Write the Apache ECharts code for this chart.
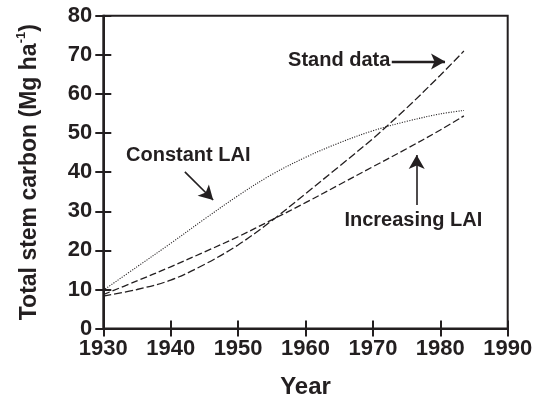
<!DOCTYPE html>
<html>
<head>
<meta charset="utf-8">
<script src="https://cdn.jsdelivr.net/npm/echarts@6/dist/echarts.min.js"></script>
<style>
html,body{margin:0;padding:0;background:#fff;}
#chart{width:539px;height:406px;}
</style>
</head>
<body>
<div id="chart"></div>
<script>
// ---- data ----
var years = [1930, 1935, 1940, 1945, 1950, 1955, 1960, 1965, 1970, 1975, 1980, 1983.5];
var standData = [8.3, 10.0, 12.4, 16.4, 21.4, 27.6, 34.5, 41.5, 48.6, 56.4, 64.8, 71.0];
var increasingLAI = [8.7, 12.2, 15.8, 19.6, 23.5, 27.8, 32.2, 36.8, 41.4, 46.0, 50.8, 54.4];
var constantLAI = [9.8, 15.8, 21.8, 28.0, 34.0, 39.4, 43.8, 47.5, 50.6, 53.0, 54.9, 55.8];
var xTicks = [1930, 1940, 1950, 1960, 1970, 1980, 1990];
var yTicks = [0, 10, 20, 30, 40, 50, 60, 70, 80];
var annotationText = ['Stand data', 'Constant LAI', 'Increasing LAI'];
var annotationAnchor = [[1965.0, 68.6], [1942.6, 44.4], [1976.0, 27.6]];
var arrowFrom = [[1972.8, 68.3], [1942.1, 40.1], [1976.5, 31.6]];
var arrowTo = [[1980.7, 68.3], [1946.3, 32.9], [1976.5, 44.4]];

function pairs(xs, ys) { return xs.map(function (x, i) { return [x, ys[i]]; }); }

var ink = '#231f20';
var font = '"Liberation Sans", Arial, Helvetica, sans-serif';

var chart = echarts.init(document.getElementById('chart'), null, { renderer: 'canvas' });

function xAx(inside, labels) {
  return {
    type: 'value', min: xTicks[0], max: xTicks[xTicks.length - 1], interval: 10,
    position: 'bottom',
    axisLine: { show: true, lineStyle: { color: ink, width: 2 } },
    axisTick: { show: true, inside: inside, length: 8, lineStyle: { color: ink, width: 2 } },
    axisLabel: { show: labels, color: ink, fontFamily: font, fontWeight: 'bold', fontSize: 22, margin: 9,
      formatter: function (v) { return String(v); } },
    splitLine: { show: false },
    name: labels ? 'Year' : '', nameLocation: 'middle', nameGap: 47,
    nameTextStyle: { color: ink, fontFamily: font, fontWeight: 'bold', fontSize: 24 }
  };
}
function yAx(inside, labels) {
  return {
    type: 'value', min: yTicks[0], max: yTicks[yTicks.length - 1], interval: 10,
    position: 'left',
    axisLine: { show: true, lineStyle: { color: ink, width: 2 } },
    axisTick: { show: true, inside: inside, length: 8, lineStyle: { color: ink, width: 2 } },
    axisLabel: { show: labels, color: ink, fontFamily: font, fontWeight: 'bold', fontSize: 22, margin: 11,
      formatter: function (v) { return String(v); } },
    splitLine: { show: false },
    name: labels ? '{a|Total stem carbon (Mg ha}{s|-1}{a|)}' : '',
    nameLocation: 'middle', nameGap: 62,
    nameTextStyle: {
      color: ink, fontFamily: font, fontWeight: 'bold', fontSize: 23,
      rich: {
        a: { color: ink, fontFamily: font, fontWeight: 'bold', fontSize: 23, lineHeight: 26, verticalAlign: 'bottom' },
        s: { color: ink, fontFamily: font, fontWeight: 'bold', fontSize: 13, lineHeight: 26, verticalAlign: 'top', padding: [0, 0, 10, 0] }
      }
    }
  };
}

var lineBase = { type: 'line', showSymbol: false, symbol: 'none', smooth: 0.35, xAxisIndex: 0, yAxisIndex: 0, silent: true };
var annLabel = { color: ink, fontFamily: font, fontWeight: 'bold', fontSize: 20 };

chart.setOption({
  animation: false,
  backgroundColor: '#fff',
  grid: { left: 103.3, right: 31.3, top: 15.8, bottom: 77.4, show: true, borderColor: ink, borderWidth: 2, backgroundColor: 'transparent' },
  xAxis: [xAx(false, true), xAx(true, false)],
  yAxis: [yAx(false, true), yAx(true, false)],
  series: [
    Object.assign({}, lineBase, { name: 'Stand data', data: pairs(years, standData),
      lineStyle: { color: ink, width: 1.3, type: [8, 3] } }),
    Object.assign({}, lineBase, { name: 'Increasing LAI', data: pairs(years, increasingLAI),
      lineStyle: { color: ink, width: 1.3, type: [7, 3] } }),
    Object.assign({}, lineBase, { name: 'Constant LAI', data: pairs(years, constantLAI),
      lineStyle: { color: ink, width: 1.1, type: [1.1, 1.4] } }),
    {
      type: 'line', name: 'annotations', data: [], silent: true,
      markLine: {
        silent: true, animation: false,
        symbol: ['none', 'arrow'], symbolSize: [12, 14],
        label: { show: false },
        lineStyle: { color: ink, type: 'solid', width: 1.6 },
        data: arrowFrom.map(function (f, i) {
          return [{ coord: f, lineStyle: { width: i === 0 ? 2.4 : 1.6 } }, { coord: arrowTo[i] }];
        })
      },
      markPoint: {
        silent: true, animation: false,
        symbol: 'circle', symbolSize: 0,
        data: annotationAnchor.map(function (c, i) {
          return { coord: c, value: annotationText[i],
            label: Object.assign({ show: true, position: 'inside', formatter: annotationText[i] }, annLabel) };
        })
      }
    }
  ]
});
</script>
</body>
</html>
